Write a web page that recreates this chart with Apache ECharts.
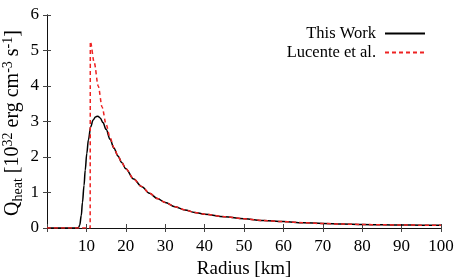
<!DOCTYPE html>
<html><head><meta charset="utf-8">
<script src="https://cdn.jsdelivr.net/npm/echarts@6/dist/echarts.min.js"></script>
<style>html,body{margin:0;padding:0;background:#fff}#c{width:463px;height:278px}</style>
</head><body><div id="c"></div>
<script>
// Radius [km] and Q_heat [10^32 erg cm^-3 s^-1]
var thisWorkR = [0, 7.5, 8.0, 8.3, 8.7, 9.0, 9.4, 9.7, 10.1, 10.5, 11.1, 11.7, 12.3, 12.9, 13.5, 14.2, 15, 16, 17, 18, 19, 20, 22, 24, 26, 28, 30, 32.5, 35, 37.5, 40, 45, 50, 55, 60, 65, 70, 75, 80, 85, 90, 95, 100];
var thisWorkQ = [0, 0, 0.01, 0.08, 0.35, 0.72, 1.2, 1.63, 2.1, 2.48, 2.85, 3.04, 3.13, 3.15, 3.1, 2.97, 2.78, 2.5, 2.25, 2.03, 1.84, 1.67, 1.38, 1.17, 0.98, 0.83, 0.72, 0.6, 0.51, 0.44, 0.39, 0.32, 0.26, 0.21, 0.18, 0.15, 0.125, 0.11, 0.1, 0.09, 0.085, 0.08, 0.075];
var lucenteR = [0, 10.95, 11.0, 12, 13, 14, 15, 16, 17, 18, 19, 20, 22, 24, 26, 28, 30, 32.5, 35, 37.5, 40, 45, 50, 55, 60, 65, 70, 75, 80, 85, 90, 95, 100];
var lucenteQ = [0, 0, 5.25, 4.65, 4.0, 3.4, 2.92, 2.55, 2.26, 2.03, 1.84, 1.67, 1.38, 1.17, 0.98, 0.83, 0.72, 0.6, 0.51, 0.44, 0.39, 0.32, 0.26, 0.21, 0.18, 0.15, 0.125, 0.11, 0.1, 0.09, 0.085, 0.08, 0.075];
var xTicks = [10, 20, 30, 40, 50, 60, 70, 80, 90, 100];
var yTicks = [0, 1, 2, 3, 4, 5, 6];

function pairs(a, b) { return a.map(function (v, i) { return [v, b[i]]; }); }
var FONT = 'Liberation Serif';
var chart = echarts.init(document.getElementById('c'), null, {renderer: 'canvas'});
var axisLine = {show: true, lineStyle: {color: '#111', width: 1}};
var tick = {show: true, inside: true, length: 4, lineStyle: {color: '#444', width: 1}};
chart.setOption({
  animation: false,
  backgroundColor: '#fff',
  grid: {left: 47, right: 22, top: 15, bottom: 50, containLabel: false, outerBoundsMode: 'none'},
  legend: {
    orient: 'vertical', right: 32, top: 20, align: 'right',
    itemWidth: 40, itemHeight: 14, itemGap: 2,
    itemStyle: {opacity: 0},
    textStyle: {fontFamily: FONT, fontSize: 16.5, color: '#000', padding: [0, 4, 0, 0]},
    data: ['This Work', 'Lucente et al.']
  },
  xAxis: [{
    type: 'value', min: 0, max: 100, interval: 10, position: 'bottom',
    name: 'Radius [km]', nameLocation: 'middle', nameGap: 30,
    nameTextStyle: {fontFamily: FONT, fontSize: 19, color: '#000'},
    axisLine: axisLine, axisTick: tick, splitLine: {show: false},
    axisLabel: {fontFamily: FONT, fontSize: 17, color: '#000', margin: 10,
      formatter: function (v) { return xTicks.indexOf(v) >= 0 ? String(v) : ''; }}
  }, {
    type: 'value', min: 0, max: 100, interval: 10, position: 'top',
    axisLine: axisLine, axisTick: tick, splitLine: {show: false}, axisLabel: {show: false}
  }],
  yAxis: [{
    type: 'value', min: 0, max: 6, interval: 1, position: 'left',
    axisLine: axisLine, axisTick: tick, splitLine: {show: false},
    axisLabel: {fontFamily: FONT, fontSize: 17, color: '#000', margin: 8,
      formatter: function (v) { return yTicks.indexOf(v) >= 0 ? String(v) : ''; }}
  }, {
    type: 'value', min: 0, max: 6, interval: 1, position: 'right',
    axisLine: axisLine, axisTick: tick, splitLine: {show: false}, axisLabel: {show: false}
  }],
  graphic: [{
    type: 'text', x: 13, y: 123, rotation: Math.PI / 2,
    style: {
      text: '{n|Q}{sub|heat}{n| [10}{sup|32}{n| erg cm}{sup|-3}{n| s}{sup|-1}{n|]}',
      align: 'center', verticalAlign: 'middle',
      rich: {
        n: {fontFamily: FONT, fontSize: 20, fill: '#000', lineHeight: 26, verticalAlign: 'middle'},
        sub: {fontFamily: FONT, fontSize: 14, fill: '#000', lineHeight: 26, verticalAlign: 'bottom', padding: [0, 0, 1, 0]},
        sup: {fontFamily: FONT, fontSize: 14, fill: '#000', lineHeight: 26, verticalAlign: 'top', padding: [1, 0, 0, 0]}
      }
    }
  }],
  series: [{
    name: 'This Work', type: 'line', data: pairs(thisWorkR, thisWorkQ),
    showSymbol: false, symbol: 'none', smooth: 0.35, smoothMonotone: 'x',
    lineStyle: {color: '#000', width: 1.5}, itemStyle: {color: '#000'}, z: 3
  }, {
    name: 'Lucente et al.', type: 'line', data: pairs(lucenteR, lucenteQ),
    showSymbol: false, symbol: 'none', smooth: 0.3, smoothMonotone: 'x',
    lineStyle: {color: '#ee2222', width: 1.5, type: [4, 3]}, itemStyle: {color: '#ee2222'}, z: 4
  }]
});
</script></body></html>
